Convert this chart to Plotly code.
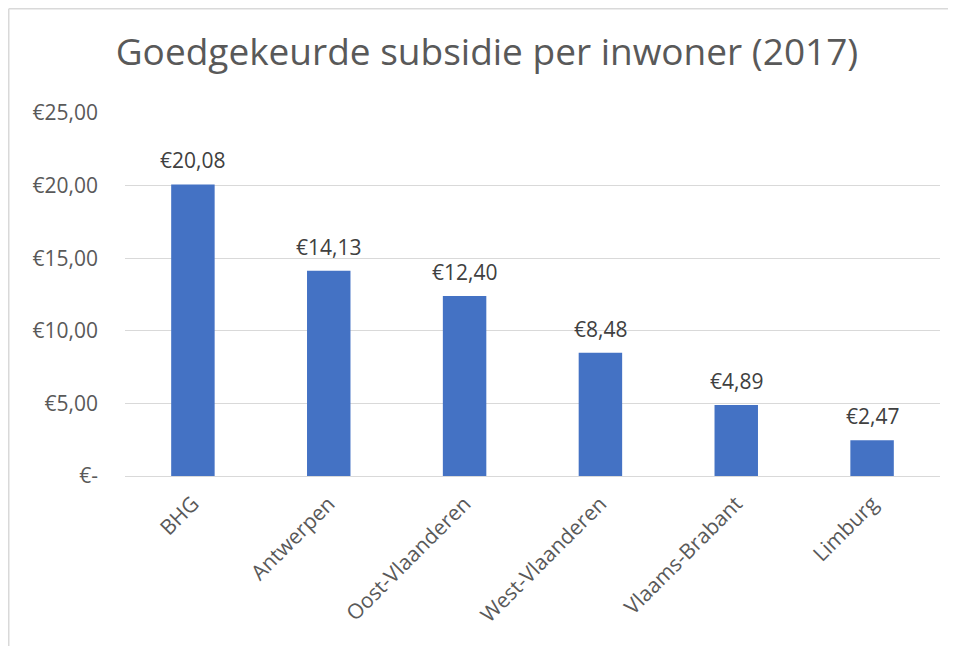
import plotly.graph_objects as go

# data
provincies = ['BHG', 'Antwerpen', 'Oost-Vlaanderen', 'West-Vlaanderen', 'Vlaams-Brabant', 'Limburg']
subsidie = [20.08, 14.13, 12.40, 8.48, 4.89, 2.47]
y_ticks = [0, 5, 10, 15, 20, 25]
y_ticktext = ['€-', '€5,00', '€10,00', '€15,00', '€20,00', '€25,00']

font_name = 'Open Sans, Noto Sans, sans-serif'

# page body has 8px margin, so everything is laid out 8px up/left
off = 8
W, H = 956 - off, 646 - off
pl, pr, pt, pb = 125 - off, 16, 113 - off, 170
pw, ph = W - pl - pr, H - pt - pb


def euro(v):
    return '€' + f'{v:.2f}'.replace('.', ',')


fig = go.Figure()
fig.add_trace(go.Bar(x=provincies, y=subsidie, marker_color='#4472c4',
                     marker_line_width=0, width=0.32))

# data labels above the bars
for p, v in zip(provincies, subsidie):
    fig.add_annotation(x=p, y=v, text=euro(v), showarrow=False,
                       yanchor='bottom', yshift=8,
                       font=dict(size=21, color='#404040', family=font_name))

# light grey frame like the excel chart area (left + top edge)
fx = (0.75 - pl) / pw
fy = (H - pb - 0.75) / ph
fig.add_shape(type='line', xref='paper', yref='paper',
              x0=fx, x1=fx, y0=-pb / ph, y1=fy,
              line=dict(color='#d9d9d9', width=1.5))
fig.add_shape(type='line', xref='paper', yref='paper',
              x0=fx, x1=(W - pl) / pw, y0=fy, y1=fy,
              line=dict(color='#d9d9d9', width=1.5))

fig.update_layout(
    width=W, height=H,
    margin=dict(l=pl, r=pr, t=pt, b=pb),
    paper_bgcolor='white', plot_bgcolor='white',
    showlegend=False,
    title=dict(text='Goedgekeurde subsidie per inwoner (2017)', x=(487 - off) / W, xanchor='center',
               y=1 - (52 - off) / H, yanchor='middle',
               font=dict(size=37, color='#595959', family=font_name)),
    font=dict(family=font_name, color='#595959'),
)
fig.update_yaxes(range=[0, 25], tickvals=y_ticks, ticktext=y_ticktext,
                 showgrid=True, gridcolor='#d9d9d9', gridwidth=1.3,
                 zeroline=False, ticks='', ticklen=0, ticklabelstandoff=26,
                 tickfont=dict(size=21, color='#595959'))
fig.update_xaxes(tickangle=-45, showline=True, linecolor='#d9d9d9', linewidth=1.3,
                 ticks='', ticklabelstandoff=6,
                 tickfont=dict(size=21, color='#595959'))

fig.write_html("out.html")
